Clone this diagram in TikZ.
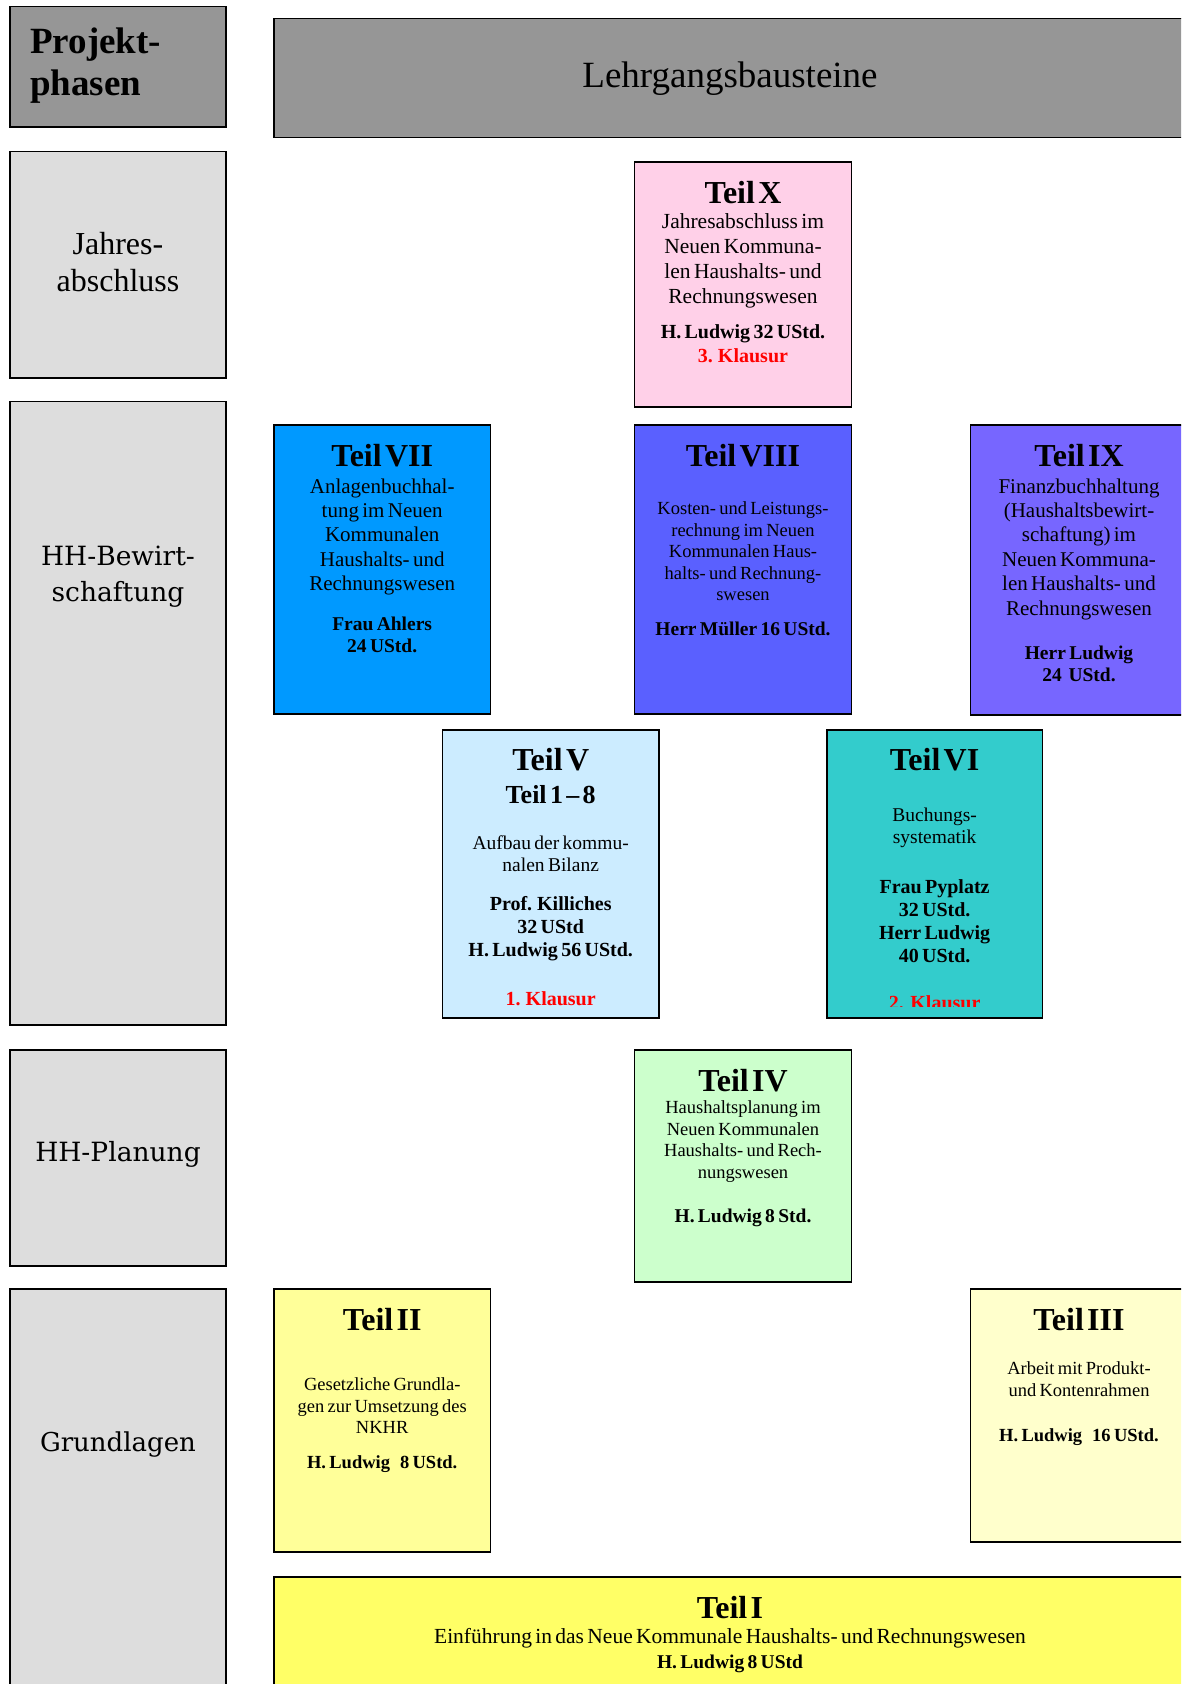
\documentclass[tikz,border=0pt]{standalone}
\usepackage{fontspec}
\setmainfont{Liberation Serif}
\newfontfamily\dvserif{DejaVu Serif}
\definecolor{headgray}{RGB}{150,150,150}
\definecolor{phasegray}{RGB}{221,221,221}
\definecolor{cX}{RGB}{255,208,232}
\definecolor{cVII}{RGB}{0,153,255}
\definecolor{cVIII}{RGB}{90,96,255}
\definecolor{cIX}{RGB}{119,102,255}
\definecolor{cV}{RGB}{204,236,255}
\definecolor{cVI}{RGB}{51,204,204}
\definecolor{cIV}{RGB}{204,255,204}
\definecolor{cII}{RGB}{255,255,153}
\definecolor{cIII}{RGB}{255,255,204}
\definecolor{cI}{RGB}{255,255,102}
\newcommand\Fs[2]{\fontsize{#1}{#2}\selectfont}
\newcommand\mkbox[6]{\node[bx, fill=#6, minimum width={(#4-#2)*1pt}, minimum height={(#5-#3)*1pt}, anchor=north west] (#1) at (#2,#3) {};}
\begin{document}
\begin{tikzpicture}[x=1pt,y=-1pt,
  bx/.style={draw=black,line width=1.6pt,inner sep=0pt,outer sep=0pt},
  txt/.style={anchor=north,inner sep=0pt,text width=212pt,align=center},
  lbl/.style={anchor=base,inner sep=0pt}]
\useasboundingbox (0,0) rectangle (1181,1684);
\clip (0,0) rectangle (1181,1684);
% left column
\mkbox{proj}{10}{6.5}{226}{126.7}{headgray}
\mkbox{jahr}{10}{151.4}{226}{378}{phasegray}
\mkbox{bew}{10}{401.5}{226}{1025}{phasegray}
\mkbox{plan}{10}{1050}{226}{1266}{phasegray}
\mkbox{grund}{10}{1289}{226}{1710}{phasegray}
% header
\mkbox{lehr}{274}{18.3}{1186}{137.4}{headgray}
% modules
\mkbox{tX}{634.5}{162}{851.4}{407}{cX}
\mkbox{tVII}{274}{425}{490.6}{714}{cVII}
\mkbox{tVIII}{634.5}{425}{851.4}{714}{cVIII}
\mkbox{tIX}{970.5}{425}{1187.5}{715}{cIX}
\mkbox{tV}{442.3}{730}{659.2}{1018}{cV}
\mkbox{tVI}{826.7}{730}{1042.5}{1018}{cVI}
\mkbox{tIV}{634.5}{1050}{851.4}{1282}{cIV}
\mkbox{tII}{274}{1289}{490.6}{1552}{cII}
\mkbox{tIII}{970.5}{1289}{1187.5}{1542}{cIII}
\mkbox{tI}{274}{1577}{1186}{1710}{cI}
% texts left column
\node[anchor=north west,inner sep=0pt,text width=190pt,align=left] (projt) at (30,23.5)
  {\Fs{37}{41.5}\bfseries\rule{0pt}{30pt}Projekt-\\phasen\par};
\node[txt] (jahrt) at (118,223.8) {\Fs{32}{37.6}\rule{0pt}{30pt}Jahres-\\abschluss\par};
\node[txt] (bewt) at (118,535) {\dvserif\Fs{26.5}{36.5}\rule{0pt}{30pt}HH-Bewirt-\\schaftung\par};
\node[lbl,font=\dvserif\Fs{26.5}{30}] (plant) at (118,1161) {HH-Planung};
\node[lbl,font=\dvserif\Fs{26}{30}] (grundt) at (118,1451) {Grundlagen};
\node[lbl,font=\Fs{37}{40}] (lehrt) at (730,87) {Lehrgangsbausteine};
% Teil X
\node[txt] (tXt) at (743,172.8) {\Fs{32}{32}\bfseries\rule{0pt}{30pt}Teil X\par
  \vspace{1.2pt}\Fs{21.5}{24.7}\mdseries Jahresabschluss im\\Neuen Kommuna-\\len Haushalts- und\\Rechnungswesen\par
  \vspace{11.8pt}\Fs{20}{23.7}\bfseries H. Ludwig 32 UStd.\\\textcolor{red}{3. Klausur}\par};
% Teil VII
\node[txt] (tVIIt) at (382.2,435.8) {\Fs{32}{32}\bfseries\rule{0pt}{30pt}Teil VII\par
  \vspace{2.6pt}\Fs{21}{24.4}\mdseries Anlagenbuchhal-\\tung im Neuen\\Kommunalen\\Haushalts- und\\Rechnungswesen\par
  \vspace{17.1pt}\Fs{19.5}{22.5}\bfseries Frau Ahlers\\24 UStd.\par};
% Teil VIII
\node[txt] (tVIIIt) at (743,435.8) {\Fs{32}{32}\bfseries\rule{0pt}{30pt}Teil VIII\par
  \vspace{27.1pt}\Fs{18.5}{21.5}\mdseries Kosten- und Leistungs-\\rechnung im Neuen\\Kommunalen Haus-\\halts- und Rechnung-\\swesen\par
  \vspace{12.1pt}\Fs{19.5}{22.5}\bfseries Herr Müller 16 UStd.\par};
% Teil IX
\node[txt] (tIXt) at (1079,435.8) {\Fs{32}{32}\bfseries\rule{0pt}{30pt}Teil IX\par
  \vspace{2.6pt}\Fs{21}{24.4}\mdseries Finanzbuchhaltung\\(Haushaltsbewirt-\\schaftung) im\\Neuen Kommuna-\\len Haushalts- und\\Rechnungswesen\par
  \vspace{21.7pt}\Fs{19.5}{22.5}\bfseries Herr Ludwig\\24~ UStd.\par};
% Teil V
\node[txt] (tVt) at (550.7,740.7) {\Fs{32}{32}\bfseries\rule{0pt}{30pt}Teil V\par
  \vspace{2.3pt}\Fs{26}{30}Teil 1 – 8\par
  \vspace{23.3pt}\Fs{19.5}{22.5}\mdseries Aufbau der kommu-\\nalen Bilanz\par
  \vspace{15.7pt}\Fs{20}{23}\bfseries Prof. Killiches\\32 UStd\\H. Ludwig 56 UStd.\par
  \vspace{26pt}\Fs{20}{23}\color{red}1. Klausur\par};
% Teil VI
\node[txt] (tVIt) at (934.6,740.7) {\Fs{32}{32}\bfseries\rule{0pt}{30pt}Teil VI\par
  \vspace{27.8pt}\Fs{19.5}{22.5}\mdseries Buchungs-\\systematik\par
  \vspace{26.2pt}\Fs{20}{23.2}\bfseries Frau Pyplatz\\32 UStd.\\Herr Ludwig\\40 UStd.\par};
\begin{scope}
  \clip (826.7,985) rectangle (1042.5,1006.5);
  \node[lbl,text=red,font=\Fs{20}{23}\bfseries] (tVIk) at (934.6,1009) {2. Klausur};
\end{scope}
% Teil IV
\node[txt] (tIVt) at (743,1061) {\Fs{32}{32}\bfseries\rule{0pt}{30pt}Teil IV\par
  \vspace{1pt}\Fs{18.5}{21.5}\mdseries Haushaltsplanung im\\Neuen Kommunalen\\Haushalts- und Rech-\\nungswesen\par
  \vspace{22pt}\Fs{19.5}{22.5}\bfseries H. Ludwig 8 Std.\par};
% Teil II
\node[txt] (tIIt) at (382.2,1300) {\Fs{32}{32}\bfseries\rule{0pt}{30pt}Teil II\par
  \vspace{39pt}\Fs{18.5}{21.5}\mdseries Gesetzliche Grundla-\\gen zur Umsetzung des\\NKHR\par
  \vspace{13pt}\Fs{18.5}{21.5}\bfseries H. Ludwig~~ 8 UStd.\par};
% Teil III
\node[txt] (tIIIt) at (1079,1300) {\Fs{32}{32}\bfseries\rule{0pt}{30pt}Teil III\par
  \vspace{22.3pt}\Fs{18.5}{22}\mdseries Arbeit mit Produkt-\\und Kontenrahmen\par
  \vspace{22.7pt}\Fs{18.5}{22}\bfseries H. Ludwig~~ 16 UStd.\par};
% Teil I
\node[txt,text width=880pt] (tIt) at (730,1587.8) {\Fs{32}{32}\bfseries\rule{0pt}{30pt}Teil I\par
  \vspace{1.9pt}\Fs{21.5}{24}\mdseries Einführung in das Neue Kommunale Haushalts- und Rechnungswesen\par
  \Fs{19.5}{24.3}\bfseries H. Ludwig 8 UStd\par};
\end{tikzpicture}
\end{document}
